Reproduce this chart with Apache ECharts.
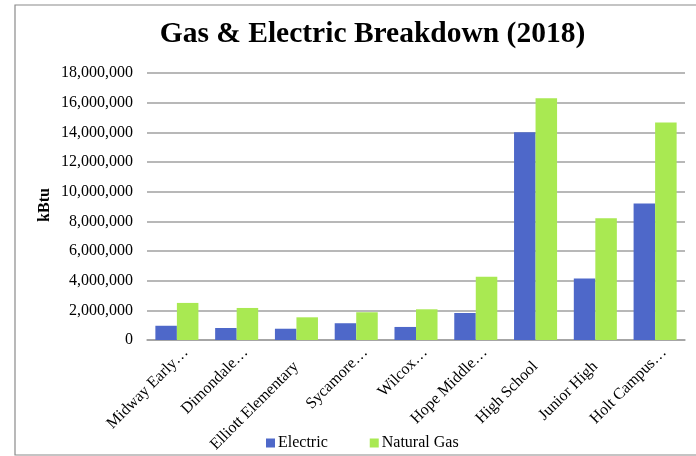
<!DOCTYPE html>
<html><head><meta charset="utf-8">
<script src="https://cdn.jsdelivr.net/npm/echarts@6/dist/echarts.min.js"></script>
<style>html,body{margin:0;padding:0;background:#fff}#c{width:696px;height:456px}</style>
</head><body><div id="c"></div>
<script>
var categories = ["Midway Early…", "Dimondale…", "Elliott Elementary", "Sycamore…", "Wilcox…", "Hope Middle…", "High School", "Junior High", "Holt Campus…"];
var electric = [960000, 810000, 760000, 1130000, 880000, 1820000, 14000000, 4150000, 9200000];
var naturalGas = [2500000, 2160000, 1530000, 1870000, 2070000, 4270000, 16300000, 8200000, 14660000];
var yTicks = [0, 2000000, 4000000, 6000000, 8000000, 10000000, 12000000, 14000000, 16000000, 18000000];
var yAxisTitle = 'kBtu';

var chart = echarts.init(document.getElementById('c'), null, {renderer: 'canvas'});
var serif = '"Liberation Serif", "Times New Roman", serif';
var labStyle = {fontFamily: serif, fontSize: 16, color: '#000'};
chart.setOption({
  animation: false,
  textStyle: {fontFamily: serif},
  title: {
    text: 'Gas & Electric Breakdown (2018)',
    left: 367.5, top: 14, textAlign: 'center',
    textStyle: {fontFamily: serif, fontSize: 29.5, fontWeight: 'bold', color: '#000'}
  },
  graphic: [{
    type: 'rect', shape: {x: 15, y: 5, width: 720, height: 450},
    style: {fill: 'none', stroke: '#8a8a8a', lineWidth: 1.2}, silent: true, z: -1
  }, {
    type: 'text', x: 45, y: 205, rotation: Math.PI / 2, silent: true,
    style: {text: yAxisTitle, fontFamily: serif, fontSize: 16, fontWeight: 'bold', fill: '#000',
            align: 'center', verticalAlign: 'middle'}
  }],
  legend: {
    data: ['Electric', 'Natural Gas'],
    left: 261, top: 430, itemWidth: 9, itemHeight: 9, itemGap: 42,
    icon: 'rect',
    textStyle: {fontFamily: serif, fontSize: 16, color: '#000', padding: [0,0,0,-2]}
  },
  grid: [
    {left: 147, right: 11, top: 73, bottom: 116, containLabel: false},
    {left: 156, right: 2, top: 73, bottom: 116, containLabel: false}
  ],
  xAxis: [{
    type: 'category', data: categories, gridIndex: 0,
    axisLine: {show: true, lineStyle: {color: '#a0a0a0', width: 1.5}},
    axisTick: {show: false},
    axisLabel: {show: false}
  }, {
    type: 'category', data: categories, gridIndex: 1,
    axisLine: {show: false}, axisTick: {show: false},
    axisLabel: {rotate: 45, interval: 0, margin: 10, fontFamily: serif, fontSize: 16, color: '#000',
      formatter: function (v) { return v.indexOf('…') >= 0 ? '{e|' + v + '}' : '{p|' + v + '}'; },
      rich: {
        e: labStyle,
        p: {fontFamily: serif, fontSize: 16, color: '#000', padding: [7, 16.5, 0, 0]}
      }}
  }],
  yAxis: [{
    type: 'value', gridIndex: 0, min: yTicks[0], max: yTicks[yTicks.length - 1], interval: 2000000,
    axisLine: {show: false}, axisTick: {show: false},
    splitLine: {lineStyle: {color: '#a0a0a0', width: 1.5}},
    axisLabel: {margin: 14, fontFamily: serif, fontSize: 16, color: '#000',
      formatter: function (v) { return v.toLocaleString('en-US'); }}
  }, {
    type: 'value', gridIndex: 1, min: yTicks[0], max: yTicks[yTicks.length - 1], interval: 2000000,
    show: false, splitLine: {show: false}
  }],
  series: [
    {name: 'Electric', type: 'bar', data: electric, barGap: '0%', barCategoryGap: '28%',
     xAxisIndex: 0, yAxisIndex: 0, itemStyle: {color: '#4e68c9'}},
    {name: 'Natural Gas', type: 'bar', data: naturalGas, barGap: '0%', barCategoryGap: '28%',
     xAxisIndex: 0, yAxisIndex: 0, itemStyle: {color: '#a9e952'}}
  ]
});
</script></body></html>
